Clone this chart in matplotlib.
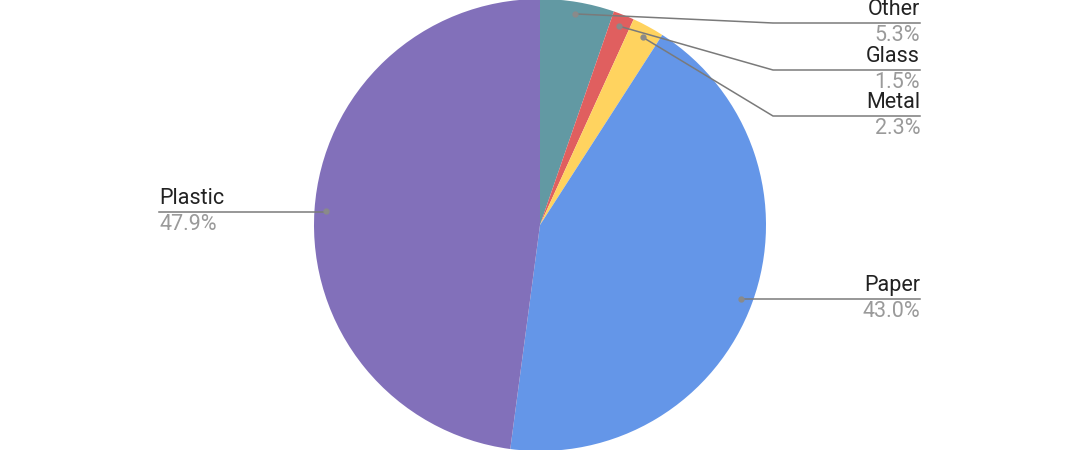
import numpy as np
import matplotlib.pyplot as plt

labels = ['Other', 'Glass', 'Metal', 'Paper', 'Plastic']
shares = [5.3, 1.5, 2.3, 43.0, 47.9]
colors = ['#6299A3', '#E05F5F', '#FFD35F', '#6496E8', '#8270BA']

plt.rcParams['font.family'] = ['Roboto', 'DejaVu Sans']

H = 450
fig = plt.figure(figsize=(10.8, 4.5), dpi=100)
ax = fig.add_axes([0, 0, 1, 1])

cx, cy, R = 540, 225, 226
wedges, _ = ax.pie(shares, colors=colors, startangle=90, counterclock=False,
                   center=(cx, H - cy), radius=R, frame=True)
ax.set_xlim(0, 1080)
ax.set_ylim(0, H)
ax.set_aspect('equal')
ax.axis('off')

# label anchor in pixels from top: (elbow x, line y, end x, align)
anchors = {
    'Other': (773, 23, 920, 'right'),
    'Glass': (773, 70, 920, 'right'),
    'Metal': (773, 116, 920, 'right'),
    'Paper': (None, 299, 920, 'right'),
    'Plastic': (None, 212, 159, 'left'),
}

for w, lab, val in zip(wedges, labels, shares):
    mid = np.deg2rad((w.theta1 + w.theta2) / 2)
    px = cx + 0.947 * R * np.cos(mid)
    py = (H - cy) + 0.947 * R * np.sin(mid)
    ex, ly, endx, ha = anchors[lab]
    ly = H - ly
    if ex is None:
        xs, ys = [px, endx], [ly, ly]
    else:
        xs, ys = [px, ex, endx], [py, ly, ly]
    ax.plot(xs, ys, color='#7a7a7a', lw=1.1, zorder=3)
    ax.plot(px, py, 'o', ms=3.5, color='#8a8a8a', zorder=4)
    ax.text(endx, ly + 3, lab, ha=ha, va='bottom', fontsize=15.5, color='#222222')
    ax.text(endx, ly - 2, f'{val:.1f}%', ha=ha, va='top', fontsize=15.5, color='#9a9a9a')

fig.savefig('out.png', dpi=100)
